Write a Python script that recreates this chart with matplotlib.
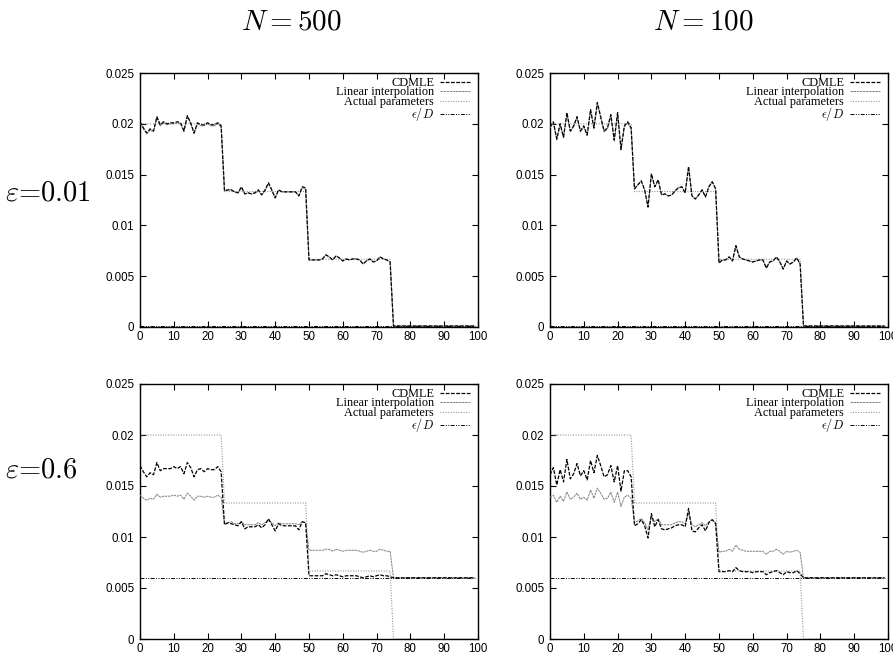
import matplotlib
matplotlib.use('Agg')
import matplotlib.pyplot as plt
from matplotlib.ticker import FuncFormatter

plt.rcParams['mathtext.fontset'] = 'cm'

# ---------------- data ----------------
X = list(range(100))
ACTUAL = [0.02] * 25 + [0.013333] * 25 + [0.006667] * 25 + [0.0] * 25

EPS_D_001 = [0.0001] * 100
EPS_D_06 = [0.006] * 100

# eps = 0.01, N = 500
CDMLE_001_500 = [
    0.0202, 0.0196, 0.0191, 0.0195, 0.0193, 0.0207, 0.0199, 0.0202, 0.0200, 0.0201,
    0.0201, 0.0202, 0.0201, 0.0193, 0.0208, 0.0201, 0.0191, 0.0201, 0.0199, 0.0199,
    0.0201, 0.0199, 0.0199, 0.0201, 0.0198,
    0.0134, 0.0135, 0.0135, 0.0133, 0.0132, 0.0138, 0.0131, 0.0132, 0.0131, 0.0132,
    0.0135, 0.0130, 0.0135, 0.0142, 0.0135, 0.0127, 0.0135, 0.0133, 0.0133, 0.0133,
    0.0133, 0.0133, 0.0129, 0.0138, 0.0137,
    0.0066, 0.0066, 0.0066, 0.0066, 0.0067, 0.0071, 0.0069, 0.0066, 0.0070, 0.0068,
    0.0065, 0.0067, 0.0066, 0.0067, 0.0067, 0.0066, 0.0062, 0.0065, 0.0067, 0.0064,
    0.0065, 0.0069, 0.0067, 0.0066, 0.0064,
] + [0.0001] * 25
LININT_001_500 = [
    0.0201, 0.0195, 0.0190, 0.0194, 0.0192, 0.0206, 0.0198, 0.0201, 0.0199, 0.0200,
    0.0200, 0.0201, 0.0200, 0.0192, 0.0207, 0.0200, 0.0190, 0.0200, 0.0198, 0.0198,
    0.0200, 0.0198, 0.0198, 0.0200, 0.0197,
    0.0134, 0.0135, 0.0135, 0.0133, 0.0132, 0.0137, 0.0131, 0.0132, 0.0131, 0.0132,
    0.0134, 0.0130, 0.0134, 0.0141, 0.0134, 0.0127, 0.0135, 0.0133, 0.0133, 0.0133,
    0.0133, 0.0133, 0.0129, 0.0137, 0.0136,
    0.0066, 0.0066, 0.0066, 0.0066, 0.0067, 0.0071, 0.0069, 0.0066, 0.0070, 0.0068,
    0.0065, 0.0067, 0.0066, 0.0067, 0.0067, 0.0066, 0.0062, 0.0065, 0.0067, 0.0064,
    0.0065, 0.0069, 0.0067, 0.0066, 0.0064,
] + [0.0001] * 25

# eps = 0.01, N = 100
CDMLE_001_100 = [
    0.0197, 0.0202, 0.0185, 0.0200, 0.0187, 0.0211, 0.0193, 0.0198, 0.0207, 0.0193,
    0.0198, 0.0189, 0.0214, 0.0196, 0.0221, 0.0207, 0.0193, 0.0196, 0.0209, 0.0184,
    0.0211, 0.0175, 0.0198, 0.0202, 0.0196,
    0.0136, 0.0140, 0.0144, 0.0135, 0.0118, 0.0151, 0.0138, 0.0145, 0.0130, 0.0131,
    0.0129, 0.0130, 0.0134, 0.0137, 0.0138, 0.0132, 0.0158, 0.0129, 0.0126, 0.0130,
    0.0135, 0.0128, 0.0138, 0.0143, 0.0136,
    0.0063, 0.0066, 0.0066, 0.0069, 0.0065, 0.0080, 0.0069, 0.0067, 0.0066, 0.0065,
    0.0064, 0.0065, 0.0066, 0.0066, 0.0058, 0.0064, 0.0065, 0.0069, 0.0064, 0.0057,
    0.0065, 0.0062, 0.0064, 0.0068, 0.0062,
] + [0.0001] * 25
LININT_001_100 = [
    0.0196, 0.0201, 0.0184, 0.0199, 0.0186, 0.0210, 0.0192, 0.0197, 0.0206, 0.0192,
    0.0197, 0.0188, 0.0213, 0.0195, 0.0220, 0.0206, 0.0192, 0.0195, 0.0208, 0.0183,
    0.0210, 0.0174, 0.0197, 0.0201, 0.0195,
    0.0136, 0.0140, 0.0143, 0.0135, 0.0118, 0.0150, 0.0138, 0.0144, 0.0130, 0.0131,
    0.0129, 0.0130, 0.0134, 0.0137, 0.0138, 0.0132, 0.0157, 0.0129, 0.0126, 0.0130,
    0.0135, 0.0128, 0.0138, 0.0143, 0.0136,
    0.0063, 0.0066, 0.0066, 0.0069, 0.0065, 0.0080, 0.0069, 0.0067, 0.0066, 0.0065,
    0.0064, 0.0065, 0.0066, 0.0066, 0.0058, 0.0064, 0.0065, 0.0069, 0.0064, 0.0057,
    0.0065, 0.0062, 0.0064, 0.0068, 0.0062,
] + [0.0001] * 25

# eps = 0.6, N = 500
CDMLE_06_500 = [
    0.0170, 0.0164, 0.0159, 0.0163, 0.0161, 0.0173, 0.0165, 0.0167, 0.0167, 0.0167,
    0.0169, 0.0167, 0.0169, 0.0162, 0.0173, 0.0168, 0.0159, 0.0166, 0.0167, 0.0164,
    0.0167, 0.0166, 0.0166, 0.0169, 0.0164,
    0.0112, 0.0114, 0.0113, 0.0112, 0.0111, 0.0115, 0.0108, 0.0110, 0.0110, 0.0110,
    0.0112, 0.0109, 0.0112, 0.0118, 0.0112, 0.0106, 0.0113, 0.0111, 0.0111, 0.0111,
    0.0111, 0.0111, 0.0107, 0.0115, 0.0114,
    0.0062, 0.0062, 0.0062, 0.0062, 0.0062, 0.0064, 0.0063, 0.0062, 0.0063, 0.0062,
    0.0061, 0.0062, 0.0062, 0.0062, 0.0062, 0.0061, 0.0060, 0.0061, 0.0062, 0.0061,
    0.0062, 0.0063, 0.0062, 0.0062, 0.0061,
] + [0.006] * 25
LININT_06_500 = [
    0.0141, 0.0138, 0.0136, 0.0138, 0.0137, 0.0142, 0.0139, 0.0140, 0.0140, 0.0140,
    0.0141, 0.0140, 0.0141, 0.0137, 0.0143, 0.0140, 0.0136, 0.0140, 0.0140, 0.0139,
    0.0140, 0.0139, 0.0139, 0.0141, 0.0139,
    0.0113, 0.0114, 0.0115, 0.0113, 0.0113, 0.0115, 0.0112, 0.0112, 0.0112, 0.0112,
    0.0114, 0.0112, 0.0114, 0.0116, 0.0114, 0.0111, 0.0114, 0.0113, 0.0113, 0.0113,
    0.0113, 0.0113, 0.0112, 0.0115, 0.0114,
    0.0087, 0.0087, 0.0087, 0.0087, 0.0087, 0.0088, 0.0088, 0.0086, 0.0088, 0.0087,
    0.0086, 0.0087, 0.0087, 0.0087, 0.0087, 0.0086, 0.0085, 0.0086, 0.0087, 0.0086,
    0.0086, 0.0088, 0.0087, 0.0086, 0.0086,
] + [0.006] * 25

# eps = 0.6, N = 100
CDMLE_06_100 = [
    0.0161, 0.0168, 0.0151, 0.0166, 0.0154, 0.0176, 0.0157, 0.0162, 0.0172, 0.0160,
    0.0165, 0.0156, 0.0175, 0.0163, 0.0180, 0.0170, 0.0159, 0.0161, 0.0170, 0.0154,
    0.0170, 0.0145, 0.0165, 0.0165, 0.0159,
    0.0111, 0.0113, 0.0117, 0.0111, 0.0099, 0.0123, 0.0110, 0.0117, 0.0108, 0.0107,
    0.0108, 0.0109, 0.0111, 0.0112, 0.0112, 0.0110, 0.0128, 0.0106, 0.0105, 0.0109,
    0.0112, 0.0106, 0.0114, 0.0117, 0.0113,
    0.0066, 0.0066, 0.0066, 0.0067, 0.0066, 0.0070, 0.0067, 0.0066, 0.0066, 0.0066,
    0.0065, 0.0066, 0.0066, 0.0066, 0.0063, 0.0065, 0.0066, 0.0067, 0.0065, 0.0063,
    0.0066, 0.0065, 0.0065, 0.0067, 0.0064,
] + [0.006] * 25
LININT_06_100 = [
    0.0139, 0.0141, 0.0134, 0.0140, 0.0135, 0.0144, 0.0137, 0.0139, 0.0143, 0.0137,
    0.0139, 0.0136, 0.0146, 0.0138, 0.0148, 0.0143, 0.0137, 0.0138, 0.0144, 0.0134,
    0.0144, 0.0130, 0.0139, 0.0141, 0.0138,
    0.0114, 0.0116, 0.0118, 0.0114, 0.0107, 0.0120, 0.0115, 0.0118, 0.0112, 0.0112,
    0.0112, 0.0112, 0.0114, 0.0115, 0.0115, 0.0113, 0.0123, 0.0112, 0.0110, 0.0112,
    0.0114, 0.0111, 0.0115, 0.0117, 0.0114,
    0.0085, 0.0086, 0.0086, 0.0088, 0.0086, 0.0092, 0.0088, 0.0087, 0.0086, 0.0086,
    0.0086, 0.0086, 0.0086, 0.0086, 0.0083, 0.0086, 0.0086, 0.0088, 0.0086, 0.0083,
    0.0086, 0.0085, 0.0086, 0.0087, 0.0085,
] + [0.006] * 25

COL_TITLES = [r'$N = 500$', r'$N = 100$']
ROW_LABELS = [r'$\varepsilon$=0.01', r'$\varepsilon$=0.6']
LEGEND_LABELS = ['CDMLE', 'Linear interpolation', 'Actual parameters', r'$\epsilon/D$']
X_TICKS = [0, 10, 20, 30, 40, 50, 60, 70, 80, 90, 100]
Y_TICKS = [0, 0.005, 0.01, 0.015, 0.02, 0.025]

PANELS = [
    [(CDMLE_001_500, LININT_001_500, EPS_D_001), (CDMLE_001_100, LININT_001_100, EPS_D_001)],
    [(CDMLE_06_500, LININT_06_500, EPS_D_06), (CDMLE_06_100, LININT_06_100, EPS_D_06)],
]

# ---------------- figure ----------------
W, H = 893, 661
fig = plt.figure(figsize=(W / 100, H / 100), dpi=100)

lefts = [140, 550]
axw = 338
tops = [73, 384]
axh = [254, 255]

tick_font = 'Liberation Sans'
leg_font = 'Liberation Serif'

for r in range(2):
    for c in range(2):
        ax = fig.add_axes([lefts[c] / W, 1 - (tops[r] + axh[r]) / H, axw / W, axh[r] / H])
        cd, li, ed = PANELS[r][c]
        ax.plot(X, cd, color='black', lw=0.9, ls=(0, (3.0, 1.2)), label=LEGEND_LABELS[0], zorder=4)
        ax.plot(X, li, color='0.5', lw=0.7, ls=(0, (2.5, 0.7)), label=LEGEND_LABELS[1], zorder=3)
        ax.plot(X, ACTUAL, color='0.55', lw=0.8, ls=(0, (0.9, 1.4)), label=LEGEND_LABELS[2], zorder=2)
        ax.plot(X, ed, color='black', lw=0.7, ls=(0, (4, 1.5, 1, 1.5, 1, 1.5)), label=LEGEND_LABELS[3], zorder=5)
        ax.set_xlim(0, 100)
        ax.set_ylim(0, 0.025)
        ax.set_xticks(X_TICKS)
        ax.set_yticks(Y_TICKS)
        ax.yaxis.set_major_formatter(FuncFormatter(lambda v, p: f'{v:g}'))
        ax.tick_params(direction='in', top=True, right=True, length=4, width=0.8,
                       labelsize=8.3, pad=4)
        ax.tick_params(axis='x', pad=3)
        for lab in ax.get_xticklabels() + ax.get_yticklabels():
            lab.set_fontfamily(tick_font)
        for s in ax.spines.values():
            s.set_linewidth(1.0)
        leg = ax.legend(loc='upper right', bbox_to_anchor=(0.975, 0.985), frameon=False,
                        markerfirst=False, handlelength=2.4, handletextpad=0.5,
                        labelspacing=-0.2, borderpad=0.0, borderaxespad=0.0,
                        prop={'family': leg_font, 'size': 8.8})

for c, t in enumerate(COL_TITLES):
    cx = [291, 703][c]
    fig.text(cx / W, 1 - 22 / H, t, ha='center', va='center', fontsize=21)

for r, t in enumerate(ROW_LABELS):
    cy = [193, 470][r]
    fig.text(5 / W, 1 - cy / H, t, ha='left', va='center', fontsize=20.5, family='cmr10')

fig.savefig('out.png', dpi=100)
